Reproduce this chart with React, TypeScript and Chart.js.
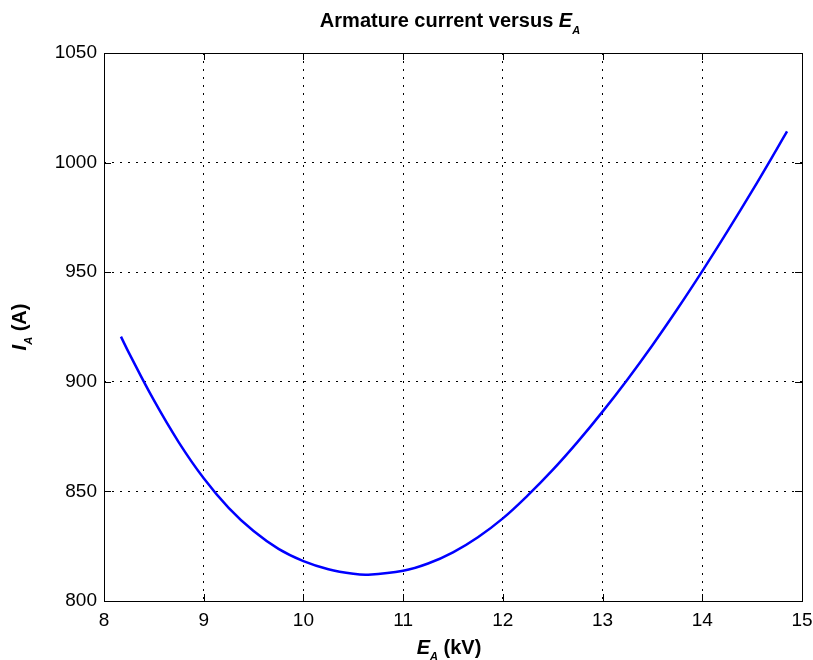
import React, { useEffect, useRef } from "react";
import { Chart, registerables } from "chart.js";

Chart.register(...registerables);

// Data
const EA_KV = [8.17, 8.25, 8.5, 8.75, 9.0, 9.25, 9.5, 9.75, 10.0, 10.25, 10.5, 10.65, 11.0, 11.25, 11.5, 11.75, 12.0, 12.25, 12.5, 12.75, 13.0, 13.25, 13.5, 13.75, 14.0, 14.25, 14.5, 14.75, 14.85];
const IA_A = [920.6, 913.2, 891.6, 872.4, 856.0, 842.5, 831.9, 823.8, 818.2, 814.5, 812.4, 812.0, 813.8, 817.1, 822.2, 829.1, 837.7, 848.2, 859.8, 872.6, 886.4, 901.1, 916.7, 933.2, 950.5, 968.5, 987.1, 1006.4, 1014.3];

const X_TICKS = [8, 9, 10, 11, 12, 13, 14, 15];
const Y_TICKS = [800, 850, 900, 950, 1000, 1050];

const TITLE_MAIN = "Armature current versus ";
const TITLE_VAR = "E";
const VAR_SUB = "A";
const X_LABEL_UNIT = " (kV)";
const Y_LABEL_VAR = "I";
const Y_LABEL_UNIT = " (A)";

const FONT_FAMILY = "'Liberation Sans', Arial, Helvetica, sans-serif";

type Part = { text: string; font: string; dy: number };

function drawParts(ctx: CanvasRenderingContext2D, parts: Part[], cx: number, baseline: number) {
  let total = 0;
  for (const p of parts) {
    ctx.font = p.font;
    total += ctx.measureText(p.text).width;
  }
  let x = cx - total / 2;
  ctx.textAlign = "left";
  ctx.textBaseline = "alphabetic";
  for (const p of parts) {
    ctx.font = p.font;
    ctx.fillText(p.text, x, baseline + p.dy);
    x += ctx.measureText(p.text).width;
  }
}

const decorPlugin = {
  id: "matlabDecor",
  afterDraw(chart: any) {
    const ctx: CanvasRenderingContext2D = chart.ctx;
    const area = chart.chartArea;
    const xs = chart.scales.x;
    const ys = chart.scales.y;
    ctx.save();
    ctx.strokeStyle = "#000";
    ctx.lineWidth = 1;
    ctx.strokeRect(Math.round(area.left) + 0.5, Math.round(area.top) + 0.5, Math.round(area.right - area.left), Math.round(area.bottom - area.top));
    const tl = 7;
    ctx.beginPath();
    for (const v of X_TICKS) {
      const px = Math.round(xs.getPixelForValue(v)) + 0.5;
      ctx.moveTo(px, area.bottom);
      ctx.lineTo(px, area.bottom - tl);
      ctx.moveTo(px, area.top);
      ctx.lineTo(px, area.top + tl);
    }
    for (const v of Y_TICKS) {
      const py = Math.round(ys.getPixelForValue(v)) + 0.5;
      ctx.moveTo(area.left, py);
      ctx.lineTo(area.left + tl, py);
      ctx.moveTo(area.right, py);
      ctx.lineTo(area.right - tl, py);
    }
    ctx.stroke();

    ctx.fillStyle = "#000";
    const big = `bold 20px ${FONT_FAMILY}`;
    const bigIt = `italic bold 20px ${FONT_FAMILY}`;
    const subIt = `italic bold 11px ${FONT_FAMILY}`;
    const cx = (area.left + area.right) / 2;
    drawParts(
      ctx,
      [
        { text: TITLE_MAIN, font: big, dy: 0 },
        { text: TITLE_VAR, font: bigIt, dy: 0 },
        { text: VAR_SUB, font: subIt, dy: 7 },
      ],
      cx - 3,
      27
    );
    drawParts(
      ctx,
      [
        { text: TITLE_VAR, font: bigIt, dy: 0 },
        { text: VAR_SUB, font: subIt, dy: 6 },
        { text: X_LABEL_UNIT, font: big, dy: 0 },
      ],
      cx - 4,
      654
    );
    ctx.save();
    ctx.translate(26, (area.top + area.bottom) / 2);
    ctx.rotate(-Math.PI / 2);
    drawParts(
      ctx,
      [
        { text: Y_LABEL_VAR, font: bigIt, dy: 0 },
        { text: VAR_SUB, font: subIt, dy: 6 },
        { text: Y_LABEL_UNIT, font: big, dy: 0 },
      ],
      0,
      0
    );
    ctx.restore();
    ctx.restore();
  },
};

export default function App() {
  const ref = useRef<HTMLCanvasElement | null>(null);
  useEffect(() => {
    if (!ref.current) return;
    const points = EA_KV.map((x, i) => ({ x, y: IA_A[i] }));
    const tickFont = { family: FONT_FAMILY, size: 19 };
    const chart = new Chart(ref.current, {
      type: "line",
      data: {
        datasets: [
          {
            data: points,
            borderColor: "#0000ff",
            borderWidth: 2.5,
            pointRadius: 0,
            fill: false,
            tension: 0.4,
          },
        ],
      },
      options: {
        responsive: false,
        animation: false,
        devicePixelRatio: 1,
        layout: { padding: { top: 53, right: 11, left: 0, bottom: 0 } },
        plugins: { legend: { display: false }, title: { display: false }, tooltip: { enabled: false } },
        scales: {
          x: {
            type: "linear",
            min: 8,
            max: 15,
            afterFit: (s: any) => {
              s.height = 59;
              s.paddingLeft = 0;
              s.paddingRight = 0;
            },
            afterBuildTicks: (s: any) => {
              s.ticks = X_TICKS.map((v) => ({ value: v }));
            },
            ticks: { color: "#000", font: tickFont, padding: 8, maxRotation: 0, autoSkip: false, callback: (v: any) => String(v) },
            grid: { color: "#000", lineWidth: 1, drawTicks: false },
            border: { display: false, dash: [2, 6] },
          },
          y: {
            type: "linear",
            min: 800,
            max: 1050,
            afterFit: (s: any) => {
              s.width = 104;
              s.paddingTop = 0;
              s.paddingBottom = 0;
            },
            afterBuildTicks: (s: any) => {
              s.ticks = Y_TICKS.map((v) => ({ value: v }));
            },
            ticks: { color: "#000", font: tickFont, padding: 7, autoSkip: false, callback: (v: any) => String(v) },
            grid: { color: "#000", lineWidth: 1, drawTicks: false },
            border: { display: false, dash: [2, 6] },
          },
        },
      },
      plugins: [decorPlugin],
    } as any);
    return () => chart.destroy();
  }, []);
  return (
    <div style={{ position: "absolute", left: 0, top: 0, width: 813, height: 660, background: "#fff" }}>
      <canvas ref={ref} width={813} height={660} style={{ display: "block", width: 813, height: 660 }} />
    </div>
  );
}
